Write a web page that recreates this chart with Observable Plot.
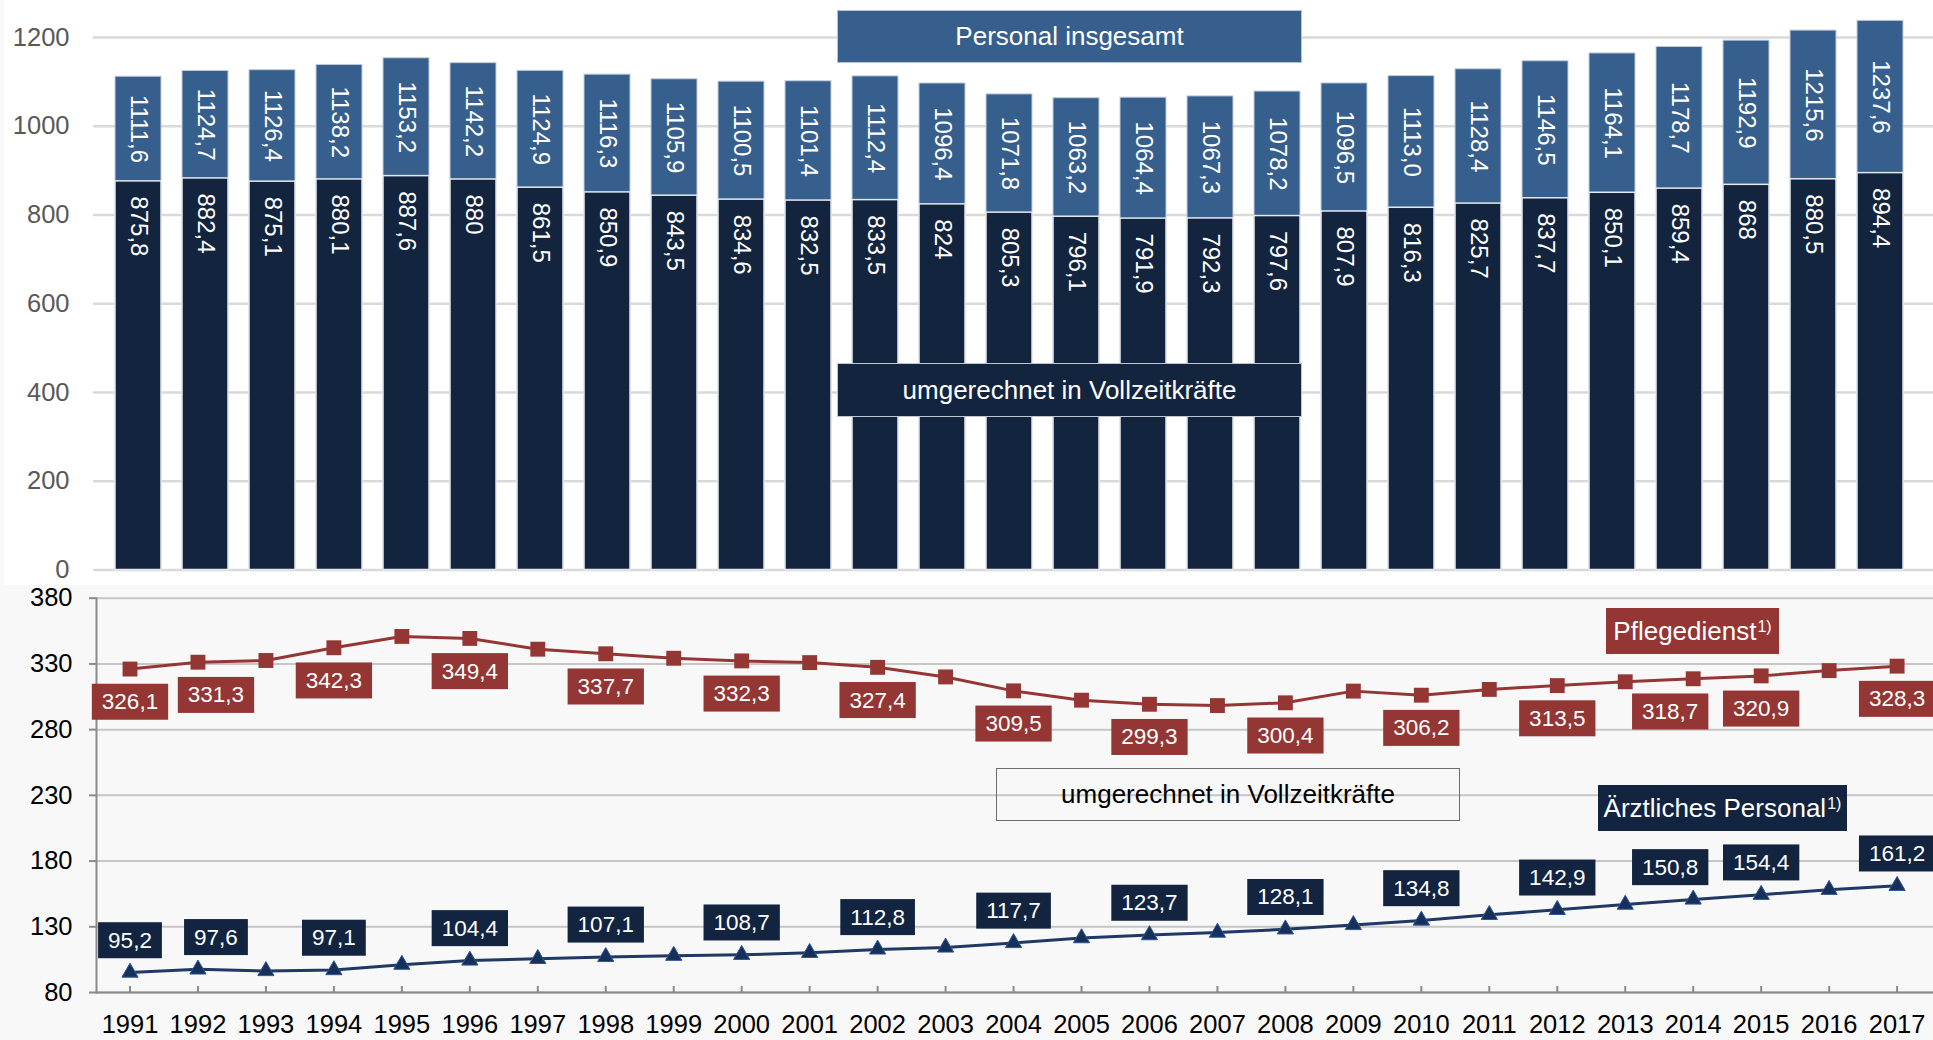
<!DOCTYPE html>
<html>
<head>
<meta charset="utf-8">
<script src="https://cdn.jsdelivr.net/npm/d3@7"></script>
<script src="https://cdn.jsdelivr.net/npm/@observablehq/plot@0.6"></script>
<style>
  body { margin: 0; background: #f8f8f8; font-family: "Liberation Sans", Arial, sans-serif; }
  #page { position: relative; width: 1933px; height: 1040px; overflow: hidden; }
  .box { position: absolute; box-sizing: border-box; display: flex; align-items: center; justify-content: center; font-size: 26px; white-space: nowrap; }
  .box sup { font-size: 16px; vertical-align: top; position: relative; top: -4px; margin-left: 1px; }
</style>
</head>
<body>
<div id="page">
  <div id="top" style="position:absolute;left:4px;top:0;width:1929px;"></div>
  <div id="bottom" style="position:absolute;left:0;top:585px;width:1933px;"></div>
  <div class="box" style="left:837px;top:10px;width:465px;height:53px;background:#365f8e;border:1px solid #b7c3d3;color:#fff;">Personal insgesamt</div>
  <div class="box" style="left:837px;top:363px;width:465px;height:54px;background:#13243f;border:1px solid #c0c6cf;color:#fff;">umgerechnet in Vollzeitkräfte</div>
  <div class="box" style="left:996px;top:768px;width:464px;height:53px;border:1.5px solid #6e6e6e;color:#000;">umgerechnet in Vollzeitkräfte</div>
  <div class="box" style="left:1606px;top:608px;width:173px;height:46px;background:#943634;color:#fff;">Pflegedienst<sup>1)</sup></div>
  <div class="box" style="left:1598px;top:785px;width:249px;height:46px;background:#12243f;color:#fff;">Ärztliches Personal<sup>1)</sup></div>
</div>
<script>
// ---------- data ----------
const years = [1991, 1992, 1993, 1994, 1995, 1996, 1997, 1998, 1999, 2000, 2001, 2002, 2003, 2004,
               2005, 2006, 2007, 2008, 2009, 2010, 2011, 2012, 2013, 2014, 2015, 2016, 2017];
const personalInsgesamt = [1111.6, 1124.7, 1126.4, 1138.2, 1153.2, 1142.2, 1124.9, 1116.3, 1105.9, 1100.5,
                           1101.4, 1112.4, 1096.4, 1071.8, 1063.2, 1064.4, 1067.3, 1078.2, 1096.5, 1113.0,
                           1128.4, 1146.5, 1164.1, 1178.7, 1192.9, 1215.6, 1237.6];
const vollzeitkraefte = [875.8, 882.4, 875.1, 880.1, 887.6, 880, 861.5, 850.9, 843.5, 834.6,
                         832.5, 833.5, 824, 805.3, 796.1, 791.9, 792.3, 797.6, 807.9, 816.3,
                         825.7, 837.7, 850.1, 859.4, 868, 880.5, 894.4];
const pflegedienst = [326.1, 331.3, 332.6, 342.3, 350.9, 349.4, 341.2, 337.7, 334.3, 332.3,
                      331.0, 327.4, 320.1, 309.5, 302.4, 299.3, 298.3, 300.4, 309.3, 306.2,
                      310.6, 313.5, 316.4, 318.7, 320.9, 324.9, 328.3];
const aerztlich = [95.2, 97.6, 96.4, 97.1, 101.2, 104.4, 105.6, 107.1, 108.0, 108.7,
                   110.2, 112.8, 114.3, 117.7, 121.4, 123.7, 125.6, 128.1, 131.4, 134.8,
                   139.1, 142.9, 146.9, 150.8, 154.4, 158.2, 161.2];
const labelYears = [1991, 1992, 1994, 1996, 1998, 2000, 2002, 2004, 2006, 2008, 2010, 2012, 2014, 2015, 2017];
const yTicksTop = [0, 200, 400, 600, 800, 1000, 1200];
const yTicksBottom = [80, 130, 180, 230, 280, 330, 380];

// ---------- style ----------
const FONT = "Liberation Sans, Arial, sans-serif";
const labelShift = {1992: 18, 2014: -23};   // horizontal nudge of value boxes (px)
const C = {light: "#365f8e", dark: "#13243f", red: "#943634", navy: "#12243f", navyLine: "#1f3864"};

const fmt1 = v => v.toFixed(1).replace(".", ",");
const fmtFte = v => Number.isInteger(v) ? String(v) : fmt1(v);

const bars = years.map((year, i) => ({year, total: personalInsgesamt[i], fte: vollzeitkraefte[i]}));
const lines = years.map((year, i) => ({year, pflege: pflegedienst[i], arzt: aerztlich[i]}));
const labeled = lines.filter(d => labelYears.includes(d.year));

// ---------- top: bars ----------
const topPlot = Plot.plot({
  width: 1929, height: 585,
  marginLeft: 89, marginRight: 0, marginTop: 37, marginBottom: 15.5,
  style: {background: "white", fontFamily: FONT, fontSize: "24px", overflow: "visible"},
  x: {type: "band", domain: years, range: [100, 1909.6], paddingInner: 0.32, paddingOuter: 0, axis: null},
  y: {domain: [0, 1200], axis: null},
  marks: [
    Plot.ruleY(yTicksTop, {stroke: "#d9d9d9", strokeWidth: 2.5}),
    Plot.barY(bars, {x: "year", y: "total", fill: C.light, stroke: "#c3cddb", strokeWidth: 1}),
    Plot.barY(bars, {x: "year", y: "fte", fill: C.dark, stroke: "#e6e9ee", strokeWidth: 1.5}),
    Plot.text(bars, {x: "year", y: d => (d.fte + d.total) / 2, text: d => fmt1(d.total),
                     rotate: 90, fill: "white", fontSize: 24}),
    Plot.text(bars, {x: "year", y: "fte", text: d => fmtFte(d.fte), rotate: 90,
                     textAnchor: "start", dy: 15, fill: "white", fontSize: 24}),
    Plot.axisY({ticks: yTicksTop, tickSize: 0, tickPadding: 24, tickFormat: d => String(d),
                fill: "#595959", fontSize: 25.5, label: null})
  ]
});
document.getElementById("top").appendChild(topPlot);

// ---------- bottom: lines ----------
function valueLabels(key, dy, name) {
  const shifts = [0, ...new Set(Object.values(labelShift))];
  return shifts.map(s => Plot.text(
    labeled.filter(d => (labelShift[d.year] || 0) === s),
    {x: "year", y: key, text: d => fmt1(d[key]), dx: s, dy, fill: "white", fontSize: 22.5, ariaDescription: name}
  ));
}

const bottomPlot = Plot.plot({
  width: 1933, height: 455,
  marginLeft: 96, marginRight: 0, marginTop: 12.7, marginBottom: 48,
  style: {background: "transparent", fontFamily: FONT, fontSize: "24px", overflow: "visible"},
  x: {domain: [1991, 2017], range: [129.5, 1896.6], axis: null},
  y: {domain: [80, 380], axis: null},
  marks: [
    Plot.gridY({ticks: yTicksBottom, stroke: "#c6c6c6", strokeOpacity: 1, strokeWidth: 2}),
    Plot.frame({anchor: "left", stroke: "#8a8a8a", strokeWidth: 2}),
    Plot.frame({anchor: "bottom", stroke: "#8a8a8a", strokeWidth: 2}),
    Plot.axisY({ticks: yTicksBottom, tickSize: 7, tickPadding: 17, stroke: "#8a8a8a", strokeWidth: 2,
                fill: "#000", fontSize: 25.5, label: null}),
    Plot.axisX({ticks: years, tickSize: 6, dy: -6, tickFormat: () => "", stroke: "#8a8a8a",
                strokeWidth: 2, label: null}),
    Plot.axisX({ticks: years, tickSize: 0, tickPadding: 22, tickFormat: d => String(d),
                fill: "#000", fontSize: 25.5, label: null}),
    Plot.line(lines, {x: "year", y: "pflege", stroke: C.red, strokeWidth: 3}),
    Plot.dot(lines, {x: "year", y: "pflege", symbol: "square", r: 8.4, fill: C.red}),
    Plot.line(lines, {x: "year", y: "arzt", stroke: C.navyLine, strokeWidth: 3}),
    Plot.dot(lines, {x: "year", y: "arzt", symbol: "triangle", r: 6, fill: "#17305a", stroke: "#2f5597", strokeWidth: 1}),
    ...valueLabels("pflege", 33, "pflege-label"),
    ...valueLabels("arzt", -32, "arzt-label")
  ]
});
document.getElementById("bottom").appendChild(bottomPlot);

function addBoxes(svg, name, color) {
  svg.querySelectorAll(`g[aria-description="${name}"] text`).forEach(t => {
    const b = t.getBBox();
    const r = document.createElementNS("http://www.w3.org/2000/svg", "rect");
    r.setAttribute("x", b.x - 10);
    r.setAttribute("width", b.width + 20);
    r.setAttribute("y", b.y + b.height / 2 - 18);
    r.setAttribute("height", 36);
    const tr = t.getAttribute("transform");
    if (tr) r.setAttribute("transform", tr);
    r.setAttribute("fill", color);
    r.setAttribute("stroke", "none");
    t.parentNode.insertBefore(r, t);
  });
}
addBoxes(bottomPlot, "pflege-label", C.red);
addBoxes(bottomPlot, "arzt-label", C.navy);
</script>
</body>
</html>
